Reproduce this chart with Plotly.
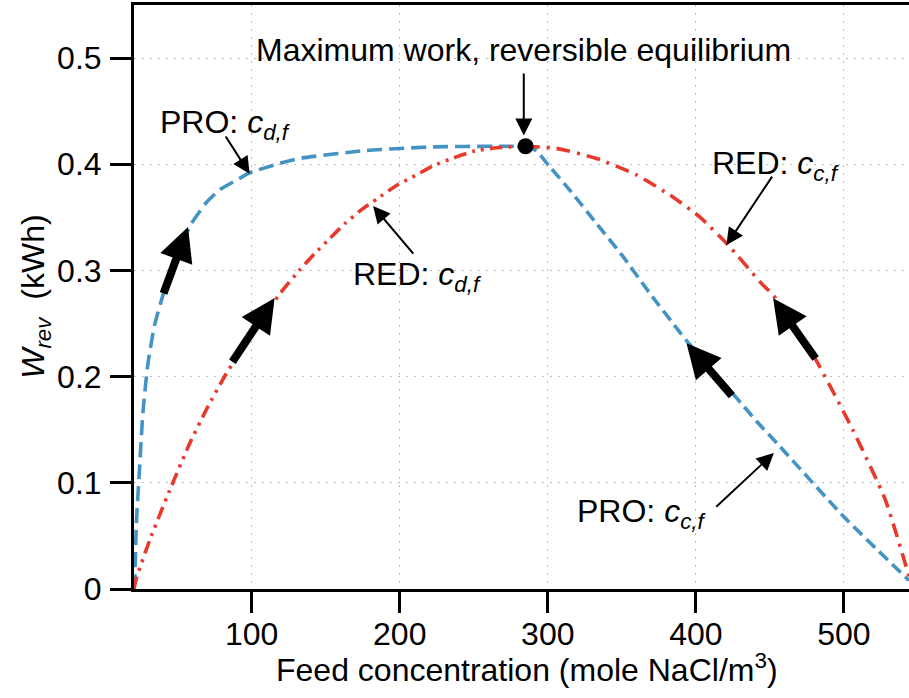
import plotly.graph_objects as go

# ---- data ----
pro_cd_x = [20.5, 21, 22.1, 24.3, 26.5, 29.8, 34.3, 40.1, 47, 53, 59.2, 69.4, 78.4, 89.7, 98.6, 118.9, 132.4, 177.5, 222.5, 268, 285]
pro_cd_y = [0.0, 0.009, 0.062, 0.115, 0.166, 0.211, 0.248, 0.277, 0.305, 0.326, 0.344, 0.364, 0.376, 0.385, 0.392, 0.4008, 0.4055, 0.413, 0.4164, 0.417, 0.417]

pro_cc_x = [285, 292, 301.4, 314.9, 332.9, 350.9, 368.9, 386.9, 393.7, 427.5, 441, 455, 500, 544]
pro_cc_y = [0.417, 0.413, 0.3976, 0.3756, 0.3443, 0.313, 0.2785, 0.246, 0.234, 0.180, 0.158, 0.137, 0.068, 0.008]

red_cd_x = [20.5, 22.1, 31.1, 44.6, 58.1, 69.4, 82.9, 118.9, 132.4, 142.6, 152.7, 162.8, 174, 184.3, 197.8, 211.3, 222.5, 238.3, 250.7, 265.3, 285]
red_cd_y = [0.0, 0.010, 0.046, 0.093, 0.137, 0.169, 0.203, 0.2778, 0.3004, 0.316, 0.330, 0.344, 0.357, 0.367, 0.380, 0.390, 0.3985, 0.407, 0.4126, 0.4155, 0.417]

red_cc_x = [285, 305.9, 332.9, 359.9, 384.7, 403, 421.8, 445.5, 452.2, 481, 506, 528, 544]
red_cc_y = [0.417, 0.415, 0.4055, 0.390, 0.369, 0.350, 0.324, 0.286, 0.277, 0.216, 0.150, 0.084, 0.012]

peak_x = [285]
peak_y = [0.417]

x_ticks = [100, 200, 300, 400, 500]
y_ticks = [0, 0.1, 0.2, 0.3, 0.4, 0.5]
y_tick_text = ["0", "0.1", "0.2", "0.3", "0.4", "0.5"]

BLUE = "#4393c3"
RED = "#e8392c"
FONT = "Liberation Sans, Arial, Helvetica, sans-serif"
FS = 32

fig = go.Figure()
fig.add_trace(go.Scatter(x=pro_cd_x, y=pro_cd_y, mode="lines", line=dict(color=BLUE, width=3.6, dash="15px,7px", shape="spline", smoothing=0.5), showlegend=False))
fig.add_trace(go.Scatter(x=pro_cc_x, y=pro_cc_y, mode="lines", line=dict(color=BLUE, width=3.6, dash="12px,6px", shape="spline", smoothing=0.5), showlegend=False))
fig.add_trace(go.Scatter(x=red_cd_x, y=red_cd_y, mode="lines", line=dict(color=RED, width=3.6, dash="13px,6px,3px,6px,3px,6px", shape="spline", smoothing=0.5), showlegend=False))
fig.add_trace(go.Scatter(x=red_cc_x, y=red_cc_y, mode="lines", line=dict(color=RED, width=3.6, dash="14px,7px,3px,7px", shape="spline", smoothing=0.5), showlegend=False))
fig.add_trace(go.Scatter(x=peak_x, y=peak_y, mode="markers", marker=dict(color="black", size=16), showlegend=False))

ann = []
# thick direction arrows (tail -> tip)
thick = [((40.1, 0.277), (57.0, 0.341)),
         ((86.3, 0.2126), (115.5, 0.274)),
         ((425.2, 0.1806), (393.7, 0.2314)),
         ((481.6, 0.2157), (452.2, 0.2738))]
for (tx, ty), (hx, hy) in thick:
    ann.append(dict(x=hx, y=hy, ax=tx, ay=ty, xref="x", yref="y", axref="x", ayref="y",
                    text="", showarrow=True, arrowhead=2, arrowsize=0.85, arrowwidth=8, arrowcolor="black"))

# thin label arrows
thin = [((283.8, 0.487), (283.8, 0.427)),
        ((81.8, 0.4275), (98.6, 0.391)),
        ((210, 0.3145), (182, 0.3606)),
        ((452.2, 0.3898), (420.7, 0.3239)),
        ((412.8, 0.0762), (452.7, 0.128))]
for (tx, ty), (hx, hy) in thin:
    ann.append(dict(x=hx, y=hy, ax=tx, ay=ty, xref="x", yref="y", axref="x", ayref="y",
                    text="", showarrow=True, arrowhead=2, arrowsize=1.7, arrowwidth=2, arrowcolor="black"))

labels = [
    ("Maximum work, reversible equilibrium", 283.8, 0.508),
    ("PRO: <i>c</i><sub><i>d,f</i></sub>", 82.4, 0.437),
    ("RED: <i>c</i><sub><i>d,f</i></sub>", 211.8, 0.294),
    ("RED: <i>c</i><sub><i>c,f</i></sub>", 454, 0.399),
    ("PRO: <i>c</i><sub><i>c,f</i></sub>", 363.9, 0.071),
]
for t, x, y in labels:
    ann.append(dict(x=x, y=y, xref="x", yref="y", text=t, showarrow=False,
                    xanchor="center", yanchor="middle", font=dict(size=FS, color="black", family=FONT)))

# axis titles
ann.append(dict(x=0.5065, y=-0.135, xref="paper", yref="paper", showarrow=False,
                text="Feed concentration (mole NaCl/m<sup>3</sup>)", xanchor="center", yanchor="middle",
                font=dict(size=FS, color="black", family=FONT)))
ann.append(dict(x=-0.128, y=0.5, xref="paper", yref="paper", showarrow=False, textangle=-90,
                text="<i>W</i><sub><i>rev</i></sub>  (kWh)", xanchor="center", yanchor="middle",
                font=dict(size=FS, color="black", family=FONT)))

fig.update_layout(
    width=909, height=698,
    margin=dict(l=134, r=0, t=5, b=109, autoexpand=False),
    plot_bgcolor="white", paper_bgcolor="white",
    font=dict(family=FONT, size=FS, color="black"),
    annotations=ann,
    xaxis=dict(range=[20.5, 544], tickmode="array", tickvals=x_ticks, automargin=False,
               showline=True, linecolor="black", linewidth=3, mirror=True,
               ticks="outside", ticklen=21, tickwidth=3, tickcolor="black",
               showgrid=True, gridcolor="#bdbdbd", griddash="2px,6px", gridwidth=1.2,
               zeroline=False, tickfont=dict(size=FS), ticklabelstandoff=-6),
    yaxis=dict(range=[0, 0.55], tickmode="array", tickvals=y_ticks, ticktext=y_tick_text, automargin=False,
               showline=True, linecolor="black", linewidth=3, mirror=False,
               ticks="outside", ticklen=21, tickwidth=3, tickcolor="black",
               showgrid=True, gridcolor="#bdbdbd", griddash="2px,6px", gridwidth=1.2,
               zeroline=False, tickfont=dict(size=FS), ticklabelstandoff=2),
)

fig.write_html("out.html", config={"displayModeBar": False},
               post_script="document.body.style.margin='0px';")
